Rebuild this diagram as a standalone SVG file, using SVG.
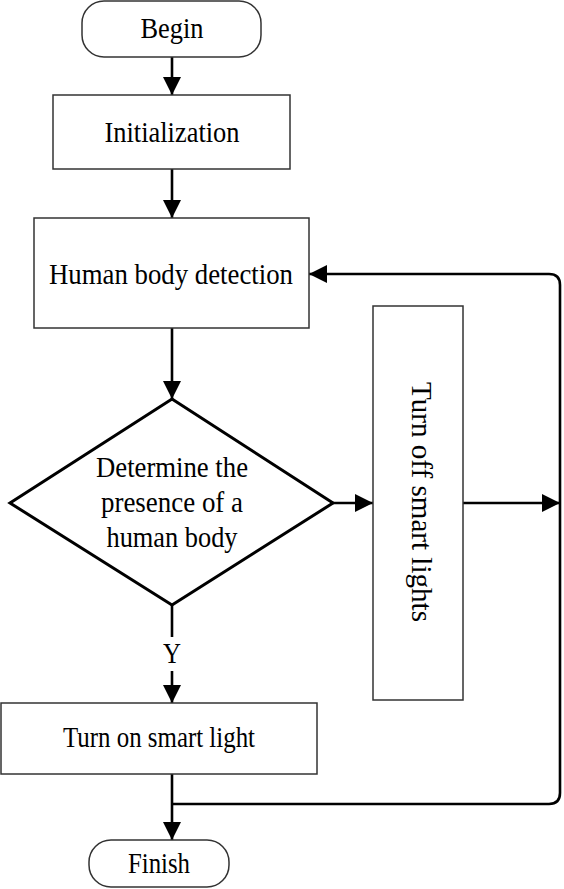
<svg xmlns="http://www.w3.org/2000/svg" width="564" height="889" viewBox="0 0 564 889">
<defs>
<marker id="ah" markerUnits="userSpaceOnUse" markerWidth="18" markerHeight="18" viewBox="0 0 18 18" refX="18" refY="9" orient="auto">
<path d="M0,0 L18,9 L0,18 Z" fill="#000"/>
</marker>
</defs>
<style>
.box{fill:#fff;stroke:#333;stroke-width:1.5}
.dia{fill:#fff;stroke:#000;stroke-width:3}
.t{font-family:"Liberation Serif","Times New Roman",serif;font-size:28.5px;fill:#000;text-anchor:middle}
.c{fill:none;stroke:#000;stroke-width:2.6}
</style>
<rect width="564" height="889" fill="#fff"/>
<g id="connectors">
<line class="c" x1="172" y1="57" x2="172" y2="95" marker-end="url(#ah)"/>
<line class="c" x1="172" y1="169" x2="172" y2="218" marker-end="url(#ah)"/>
<line class="c" x1="172" y1="328" x2="172" y2="399" marker-end="url(#ah)"/>
<line class="c" x1="333" y1="503" x2="373" y2="503" marker-end="url(#ah)"/>
<line class="c" x1="463" y1="503" x2="560" y2="503" marker-end="url(#ah)"/>
<line class="c" x1="172" y1="605" x2="172" y2="637"/>
<line class="c" x1="172" y1="671" x2="172" y2="703" marker-end="url(#ah)"/>
<line class="c" x1="172" y1="774" x2="172" y2="840" marker-end="url(#ah)"/>
<path class="c" d="M172,804 L549,804 Q560,804 560,793 L560,285 Q560,274 549,274 L309,274" marker-end="url(#ah)"/>
<text class="t" x="172" y="663" textLength="18" lengthAdjust="spacingAndGlyphs">Y</text>
</g>
<g id="begin">
<rect class="box" x="82" y="1" width="179" height="56" rx="22"/>
<text class="t" x="172" y="38" textLength="63" lengthAdjust="spacingAndGlyphs">Begin</text>
</g>
<g id="init">
<rect class="box" x="53" y="95" width="237" height="74"/>
<text class="t" x="172" y="142" textLength="135" lengthAdjust="spacingAndGlyphs">Initialization</text>
</g>
<g id="detect">
<rect class="box" x="34" y="218" width="275" height="110"/>
<text class="t" x="171" y="284" textLength="244" lengthAdjust="spacingAndGlyphs">Human body detection</text>
</g>
<g id="decision">
<polygon class="dia" points="172,399 333,503 172,605 10,503"/>
<text class="t" x="172" y="477" textLength="152" lengthAdjust="spacingAndGlyphs">Determine the</text>
<text class="t" x="172" y="512" textLength="142" lengthAdjust="spacingAndGlyphs">presence of a</text>
<text class="t" x="172" y="547" textLength="131" lengthAdjust="spacingAndGlyphs">human body</text>
</g>
<g id="off">
<rect class="box" x="373" y="306" width="90" height="394"/>
<text class="t" transform="translate(421,502) rotate(90)" x="0" y="9" textLength="240" lengthAdjust="spacingAndGlyphs">Turn off smart lights</text>
</g>
<g id="on">
<rect class="box" x="1" y="703" width="316" height="71"/>
<text class="t" x="159" y="747" textLength="192" lengthAdjust="spacingAndGlyphs">Turn on smart light</text>
</g>
<g id="finish">
<rect class="box" x="89" y="840" width="140" height="47" rx="22"/>
<text class="t" x="159" y="873" textLength="62" lengthAdjust="spacingAndGlyphs">Finish</text>
</g>
</svg>
